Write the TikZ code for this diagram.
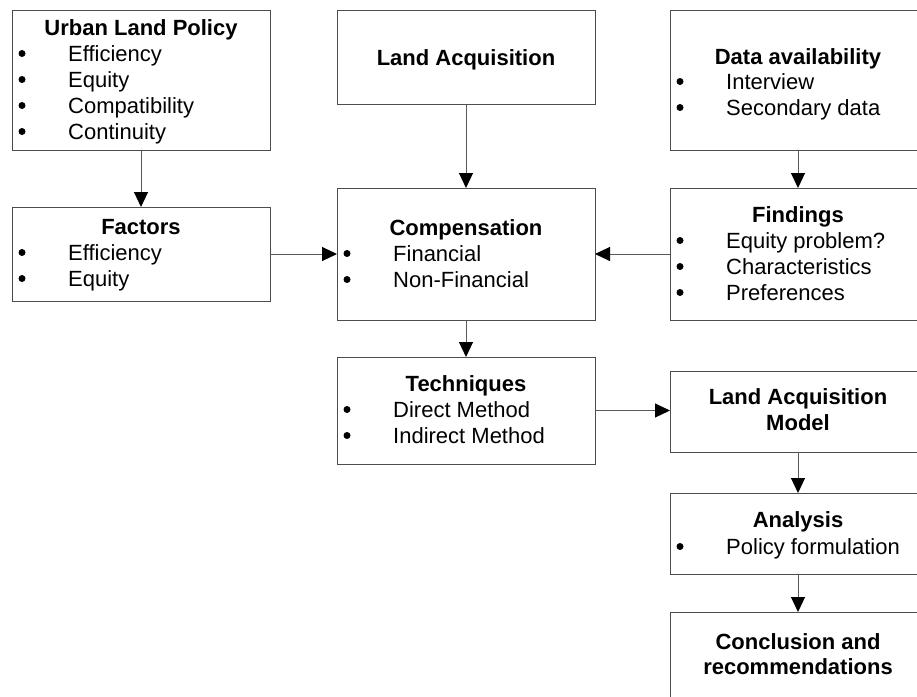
\documentclass[tikz,border=0pt]{standalone}
\usepackage{fontspec}
\setmainfont{Liberation Sans}
\usetikzlibrary{arrows.meta}
\newcommand{\bitem}[4]{%
  \node[bul] (#1b) at (#2+10,#3-7.5) {};
  \node[itx] (#1) at (#2+56,#3) {#4};}
\begin{document}
\begin{tikzpicture}[x=1pt,y=-1pt,
  font=\fontsize{22}{26}\selectfont,
  box/.style={draw=black!70, line width=1pt, rectangle, inner sep=0pt, outer sep=0pt, anchor=north west},
  ttl/.style={font=\fontsize{22}{26}\selectfont\bfseries, anchor=base, inner sep=0pt},
  bul/.style={circle, fill=black, inner sep=0pt, minimum size=7pt},
  itx/.style={anchor=base west, inner sep=0pt},
  arr/.style={draw=black!65, line width=1pt, -{Triangle[length=15pt,width=14pt,color=black]}}]
\useasboundingbox (0,0) rectangle (917,696);
\clip (0,0) rectangle (917,696);
% boxes
\node[box, minimum width=258, minimum height=140] (ulp) at (12,10) {};
\node[box, minimum width=258, minimum height=94] (fac) at (12,207) {};
\node[box, minimum width=258, minimum height=94] (la) at (337,10) {};
\node[box, minimum width=258, minimum height=132] (comp) at (337,188) {};
\node[box, minimum width=258, minimum height=107] (tech) at (337,357) {};
\node[box, minimum width=256, minimum height=140] (data) at (670,10) {};
\node[box, minimum width=256, minimum height=132] (find) at (670,188) {};
\node[box, minimum width=256, minimum height=81] (lam) at (670,371) {};
\node[box, minimum width=256, minimum height=81] (ana) at (670,493) {};
\node[box, minimum width=256, minimum height=100] (conc) at (670,612) {};
% texts
\node[ttl] (ulpT) at (141,35) {Urban Land Policy};
\bitem{ulp1}{12}{61}{Efficiency}
\bitem{ulp2}{12}{87}{Equity}
\bitem{ulp3}{12}{113}{Compatibility}
\bitem{ulp4}{12}{139}{Continuity}
\node[ttl] (laT) at (466,65) {Land Acquisition};
\node[ttl] (dataT) at (798,64) {Data availability};
\bitem{data1}{670}{89}{Interview}
\bitem{data2}{670}{115}{Secondary data}
\node[ttl] (facT) at (141,234) {Factors};
\bitem{fac1}{12}{260}{Efficiency}
\bitem{fac2}{12}{286}{Equity}
\node[ttl] (compT) at (466,235) {Compensation};
\bitem{comp1}{337}{261}{Financial}
\bitem{comp2}{337}{287}{Non-Financial}
\node[ttl] (findT) at (798,222) {Findings};
\bitem{find1}{670}{248}{Equity problem?}
\bitem{find2}{670}{274}{Characteristics}
\bitem{find3}{670}{300}{Preferences}
\node[ttl] (techT) at (466,391) {Techniques};
\bitem{tech1}{337}{417}{Direct Method}
\bitem{tech2}{337}{443}{Indirect Method}
\node[ttl] (lamT1) at (798,404) {Land Acquisition};
\node[ttl] (lamT2) at (798,430) {Model};
\node[ttl] (anaT) at (798,527) {Analysis};
\bitem{ana1}{670}{554}{Policy formulation}
\node[ttl] (concT1) at (798,649) {Conclusion and};
\node[ttl] (concT2) at (798,674) {recommendations};
% arrows
\draw[arr] (ulp.south) -- (fac.north);
\draw[arr] (la.south) -- (comp.north);
\draw[arr] (data.south) -- (find.north);
\draw[arr] (fac.east) -- (comp.west);
\draw[arr] (find.west) -- (comp.east);
\draw[arr] (comp.south) -- (tech.north);
\draw[arr] (tech.east) -- (tech.east -| lam.west);
\draw[arr] (lam.south) -- (ana.north);
\draw[arr] (ana.south) -- (conc.north);
\end{tikzpicture}
\end{document}
